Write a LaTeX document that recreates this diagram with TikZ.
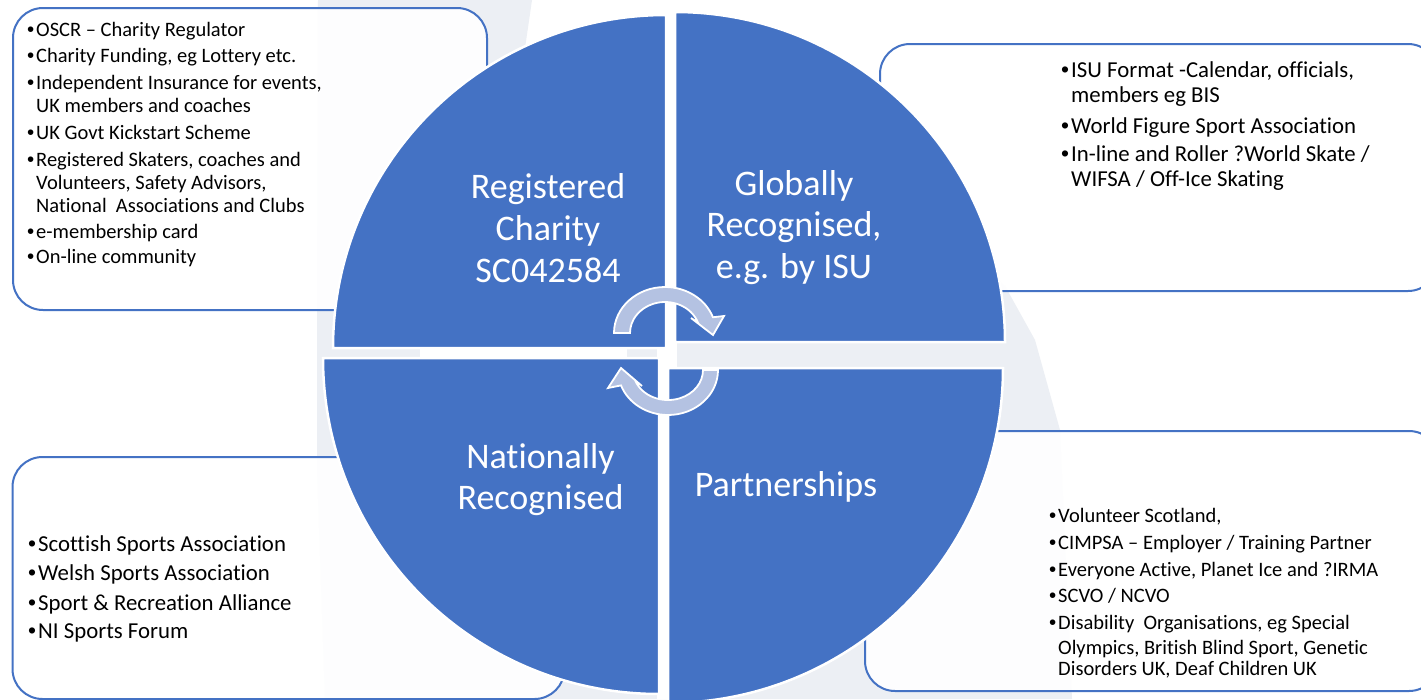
\documentclass[tikz,border=0pt]{standalone}
\usepackage{fontspec}
\setmainfont[Ligatures=NoCommon]{Carlito}
\newfontfamily\bulfont{Liberation Sans}
\definecolor{qblue}{HTML}{4472C4}
\definecolor{arrowfill}{HTML}{B4C2E2}
\definecolor{wmgrey}{HTML}{ECEFF4}
\newcommand{\bu}{\makebox[0.44em][l]{\bulfont •}}
\newcommand{\contl}{\hspace*{0.44em}}
\tikzset{
  infobox/.style={draw=qblue, line width=2pt, fill=white, fill opacity=0.92, draw opacity=1,
    rounded corners=30pt, rectangle, inner sep=0pt, anchor=north west},
  quad/.style={fill=qblue, draw=white, line width=2.5pt},
  cyc/.style={fill=arrowfill, draw=white, line width=1.8pt, line join=miter},
  smalltxt/.style={font=\fontsize{20.5}{23}\selectfont, inner sep=0pt, anchor=base west, text=black},
  bigtxt/.style={font=\fontsize{22.8}{26}\selectfont, inner sep=0pt, anchor=base west, text=black},
  quadtxt/.style={font=\fontsize{36}{42}\selectfont, text=white, inner sep=0pt, anchor=base},
}
\begin{document}
\begin{tikzpicture}[x=1pt,y=-1pt]
\useasboundingbox (0,0) rectangle (1421,699);
\clip (0,0) rectangle (1421,699);
\fill[white] (0,0) rectangle (1421,699);
% faint watermark
\fill[wmgrey] (318,0) -- (532,0) -- (524,55) -- (600,200) -- (900,200) -- (1005,286)
  -- (1035,340) -- (1060,430) -- (1072,699) -- (325,699) -- (317,470) -- (317,300) -- cycle;
\fill[white] (657,0) rectangle (677,699);
\fill[white] (420,344) rectangle (627,372);
% boxes
\node[infobox, minimum width=474pt, minimum height=302pt] (boxTL) at (12,7) {};
\node[infobox, minimum width=558pt, minimum height=247pt] (boxTR) at (879,43) {};
\node[infobox, minimum width=552pt, minimum height=242pt] (boxBL) at (11.5,456) {};
\node[infobox, minimum width=574pt, minimum height=260pt] (boxBR) at (864,430) {};
% quadrants
\path[quad] (666,348) -- (333,348) arc[start angle=180, end angle=270, radius=333] -- cycle;
\path[quad] (675,342) -- (675,12) arc[start angle=270, end angle=360, radius=330] -- cycle;
\path[quad] (668,368) -- (1003,368) arc[start angle=0, end angle=90, radius=335] -- cycle;
\path[quad] (659,358) -- (659,694) arc[start angle=90, end angle=180, radius=336] -- cycle;
% cycle arrows
\path[cyc] (614,333) arc[start angle=180, end angle=340, x radius=51, y radius=46]
  -- (724,316) -- (713,335) -- (691,318) -- (697.9,322.4)
  arc[start angle=340, end angle=180, x radius=35, y radius=31] -- cycle;
\path[cyc] (718,370) arc[start angle=0, end angle=160, x radius=50, y radius=45]
  -- (608,388) -- (621,368) -- (642,386) -- (635.1,380.3)
  arc[start angle=160, end angle=0, x radius=35, y radius=30] -- cycle;
% quadrant labels
\node[quadtxt] (q1a) at (548,198) {Registered};
\node[quadtxt] (q1b) at (548,240.5) {Charity};
\node[quadtxt] (q1c) at (548,282) {SC042584};
\node[quadtxt] (q2a) at (794,195) {Globally};
\node[quadtxt] (q2b) at (794,236.5) {Recognised,};
\node[quadtxt] (q2c) at (794,278) {e.g. by ISU};
\node[quadtxt] (q3a) at (540.5,468) {Nationally};
\node[quadtxt] (q3b) at (540.5,509) {Recognised};
\node[quadtxt] (q4a) at (786,496) {Partnerships};
% box texts
\foreach \yy/\tx [count=\i] in {
  36/{\bu OSCR – Charity Regulator},
  62.5/{\bu Charity Funding, eg Lottery etc.},
  89/{\bu Independent Insurance for events,},
  112.5/{\contl UK members and coaches},
  139.5/{\bu UK Govt Kickstart Scheme},
  166.5/{\bu Registered Skaters, coaches and},
  189/{\contl Volunteers, Safety Advisors,},
  212/{\contl National~ Associations and Clubs},
  238/{\bu e-membership card},
  263/{\bu On-line community}}
  \node[smalltxt] (tl\i) at (27,\yy) {\tx};
\foreach \yy/\tx [count=\i] in {
  77/{\bu ISU Format -Calendar, officials,},
  102/{\contl members eg BIS},
  133/{\bu World Figure Sport Association},
  161/{\bu In-line and Roller ?World Skate /},
  186/{\contl WIFSA / Off-Ice Skating}}
  \node[bigtxt] (tr\i) at (1061,\yy) {\tx};
\foreach \yy/\tx [count=\i] in {
  551.5/{\bu Scottish Sports Association},
  580.5/{\bu Welsh Sports Association},
  610/{\bu Sport \& Recreation Alliance},
  638.5/{\bu NI Sports Forum}}
  \node[bigtxt] (bl\i) at (28,\yy) {\tx};
\foreach \yy/\tx [count=\i] in {
  522.5/{\bu Volunteer Scotland,},
  549.5/{\bu CIMPSA – Employer / Training Partner},
  576/{\bu Everyone Active, Planet Ice and ?IRMA},
  602.5/{\bu SCVO / NCVO},
  629/{\bu Disability~ Organisations, eg Special},
  654/{\contl Olympics, British Blind Sport, Genetic},
  675.5/{\contl Disorders UK, Deaf Children UK}}
  \node[smalltxt] (br\i) at (1049,\yy) {\tx};
\end{tikzpicture}
\end{document}
